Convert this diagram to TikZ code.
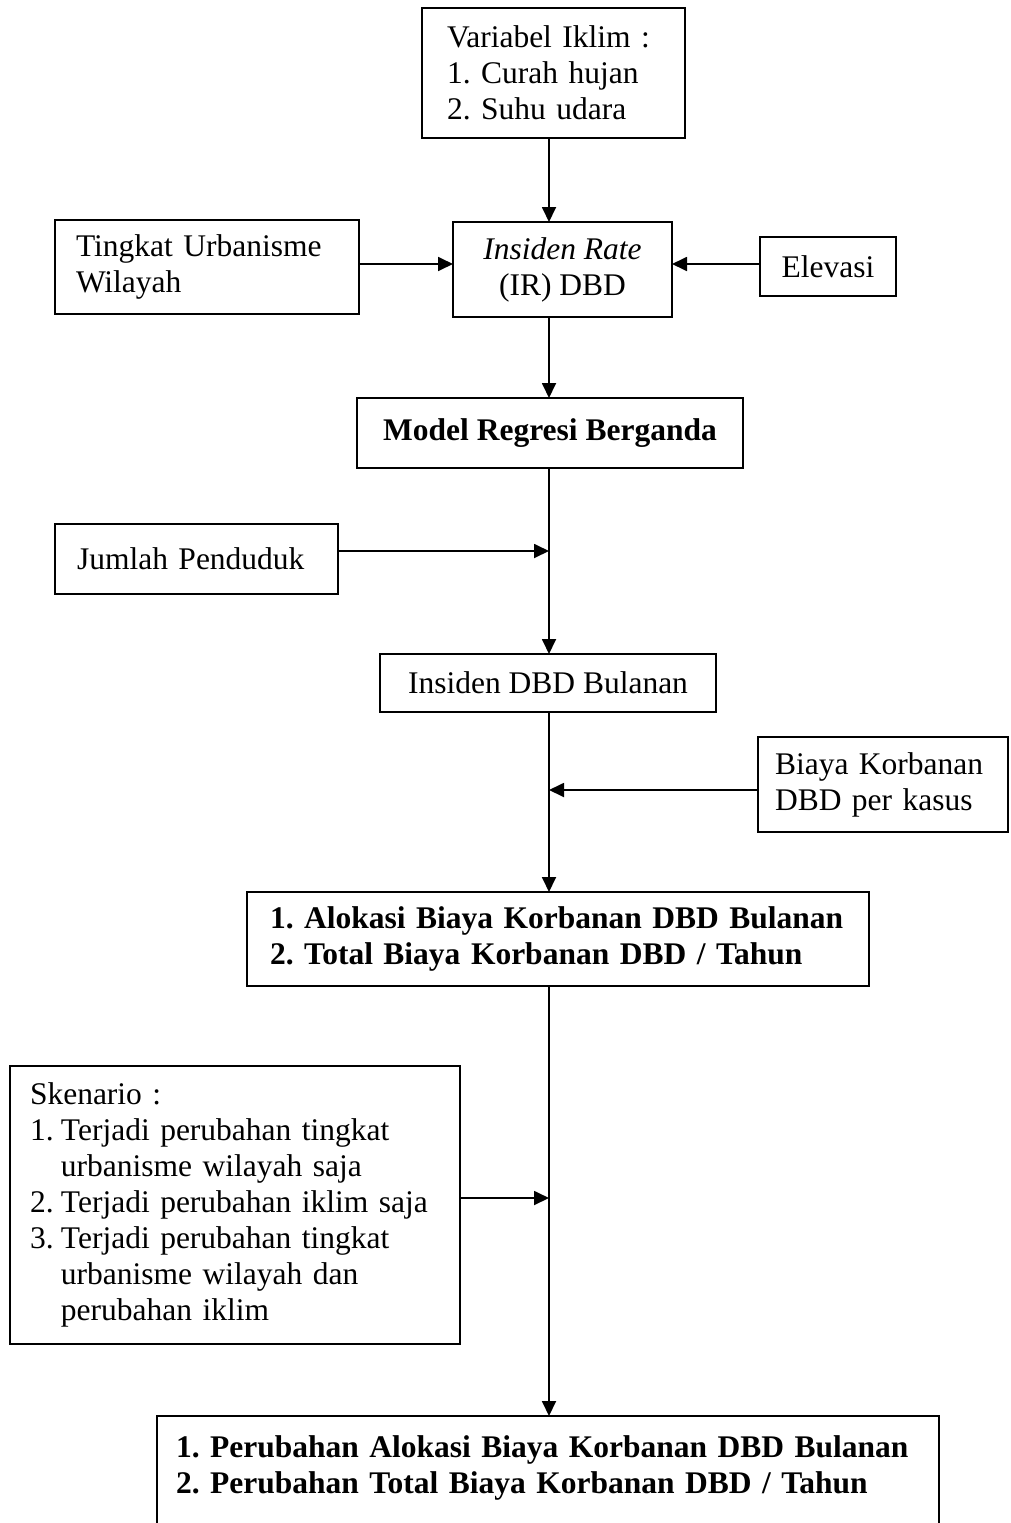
\documentclass[tikz,border=0pt]{standalone}
\usepackage{fontspec}
\setmainfont{Liberation Serif}
\usetikzlibrary{arrows.meta}
\frenchspacing
\hyphenpenalty=10000
\exhyphenpenalty=10000
\tikzset{
  box/.style={draw, line width=1.8pt, font=\fontsize{31.5}{36}\selectfont, inner sep=0pt, outer sep=0pt},
  arr/.style={line width=1.8pt, -{Triangle[length=15pt,width=14pt]}},
}
\begin{document}
\begin{tikzpicture}[x=1pt,y=-1pt]
\clip (0,0) rectangle (1010,1523);
\fill[white] (0,0) rectangle (1010,1523);

\node[box, text width=213pt, inner xsep=25pt, minimum height=130pt, align=left] (var) at (553.5,73)
  {Variabel Iklim :\\1. Curah hujan\\2. Suhu udara};
\node[box, text width=262pt, inner xsep=21pt, minimum height=94pt, align=left] (tingkat) at (207,267)
  {Tingkat Urbanisme\\Wilayah};
\node[box, minimum width=219pt, minimum height=95pt, align=center] (insiden) at (562.5,269.5)
  {\textit{Insiden Rate}\\(IR) DBD};
\node[box, minimum width=136pt, minimum height=59pt] (elevasi) at (828,266.5) {Elevasi};
\node[box, minimum width=386pt, minimum height=70pt, font=\fontsize{31.5}{36}\selectfont\bfseries] (model) at (550,433)
  {Model Regresi Berganda};
\node[box, text width=239pt, inner xsep=22pt, minimum height=70pt, align=left] (jumlah) at (196.5,559)
  {Jumlah Penduduk};
\node[box, minimum width=336pt, minimum height=58pt] (bulanan) at (548,683) {Insiden DBD Bulanan};
\node[box, text width=216pt, inner xsep=17pt, minimum height=95pt, align=left] (biaya) at (883,784.5)
  {Biaya Korbanan\\DBD per kasus};
\node[box, text width=576pt, inner xsep=23pt, minimum height=94pt, align=left, font=\fontsize{31.5}{36}\selectfont\bfseries] (alokasi) at (558,939)
  {1. Alokasi Biaya Korbanan DBD Bulanan\\2. Total Biaya Korbanan DBD / Tahun};
\node[box, text width=410pt, inner xsep=20pt, minimum height=278pt, align=left] (skenario) at (235,1205)
  {Skenario :\\
   \makebox[31pt][l]{1.}Terjadi perubahan tingkat\\
   \hspace*{31pt}urbanisme wilayah saja\\
   \makebox[31pt][l]{2.}Terjadi perubahan iklim saja\\
   \makebox[31pt][l]{3.}Terjadi perubahan tingkat\\
   \hspace*{31pt}urbanisme wilayah dan\\
   \hspace*{31pt}perubahan iklim};
\node[box, anchor=north, text width=744pt, inner xsep=19pt, inner ysep=20pt, align=left, font=\fontsize{31.5}{36}\selectfont\bfseries] (hasil) at (548,1416)
  {1. Perubahan Alokasi Biaya Korbanan DBD Bulanan\\2. Perubahan Total Biaya Korbanan DBD / Tahun\\\strut};

\coordinate (jR) at (549,264);
\coordinate (jP) at (549,551);
\coordinate (jB) at (549,790);
\coordinate (jS) at (549,1198);

\draw[arr] (var.south -| jP) -- (insiden.north -| jP);
\draw[arr] (tingkat.east |- jR) -- (insiden.west |- jR);
\draw[arr] (elevasi.west |- jR) -- (insiden.east |- jR);
\draw[arr] (insiden.south -| jP) -- (model.north -| jP);
\draw[arr] (model.south -| jP) -- (bulanan.north -| jP);
\draw[arr] (jumlah.east |- jP) -- (jP);
\draw[arr] (bulanan.south -| jP) -- (alokasi.north -| jP);
\draw[arr] (biaya.west |- jB) -- (jB);
\draw[arr] (alokasi.south -| jP) -- (hasil.north -| jP);
\draw[arr] (skenario.east |- jS) -- (jS);
\end{tikzpicture}
\end{document}
